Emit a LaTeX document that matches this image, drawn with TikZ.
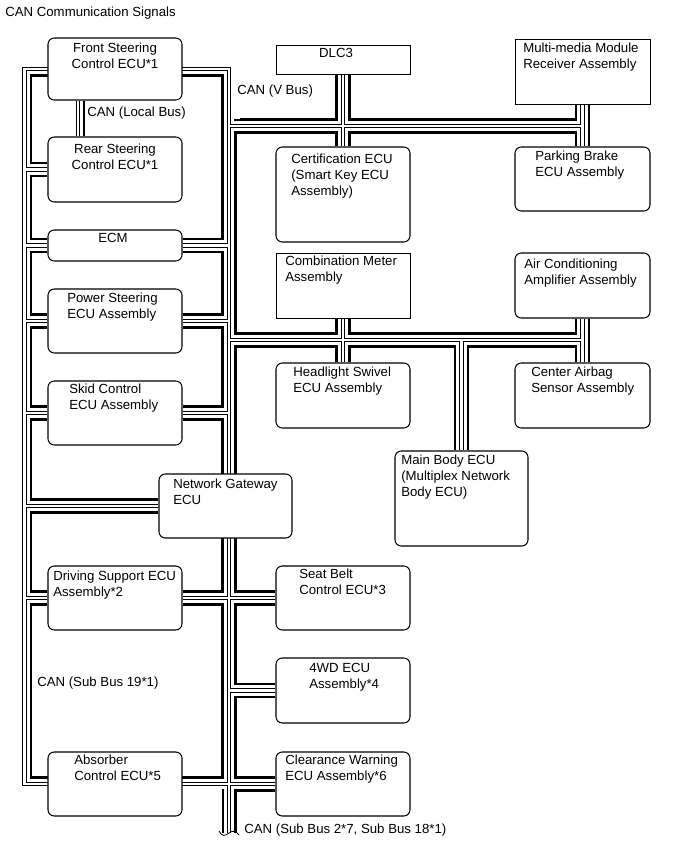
\documentclass[tikz,border=0pt]{standalone}
\usepackage{fontspec}
\setmainfont{Liberation Sans}
\usetikzlibrary{backgrounds}

% Tratti del bus CAN (disegnati piu' volte, a strati)
\newcommand{\canbus}[1]{%
  \draw[#1] (vfine) -- (dtop) -- (stop) -- (sbot) -- (dbot);
  \foreach \n in {rsc,ecm,psa,skid,ngw,dsa}
    \draw[#1] (\n.west) -- (\n.west -| stop);
  \foreach \n in {ecm,psa,skid,dsa}
    \draw[#1] (\n.east) -- (\n.east -| dtop);
  \foreach \n in {sbc,wdf,cwe}
    \draw[#1] (\n.west) -- (\n.west -| dtop);
  \draw[#1] (vbus) -- (vbus -| mmr.south);
  \draw[#1] (hbus) -- (hbus -| aca.south);
  \draw[#1] (dlc.south) -- (cert.north);
  \draw[#1] (mmr.south) -- (pkb.north);
  \draw[#1] (cmb.south) -- (hls.north);
  \draw[#1] (aca.south) -- (cas.north);
  \draw[#1] (hbus -| mbe.north) -- (mbe.north);
}

\begin{document}
\begin{tikzpicture}[x=0.025cm, y=-0.025cm,
    every node/.style={font=\fontsize{9.4}{11.4}\selectfont},
    ecu/.style={draw, fill=white, rounded corners=4.5pt, line width=0.75pt, inner sep=0pt,
                minimum width=3.35cm, minimum height=1.6cm},
    ecuq/.style={ecu, sharp corners, line width=0.5pt},
    txt/.style={inner sep=0pt, anchor=north west, align=left}]
        \useasboundingbox (0,0) rectangle (690,854);
        % Titolo
        \node[txt] (titolo) at (5,7) {CAN Communication Signals};
        % Punti del bus
        \coordinate (stop) at (24.5,69);
        \coordinate (dtop) at (229,69);
        \coordinate (sbot) at (24.5,784);
        \coordinate (dbot) at (229,784);
        \coordinate (vfine) at (229,833);
        \coordinate (vbus) at (229,126);
        \coordinate (hbus) at (229,340);
        \coordinate (lbus) at (78,0);
        \coordinate (lbk) at (84,0);
        % Centraline a sinistra
        \node[ecu, minimum height=1.55cm] (fsc) at (115,69) {};
        \node[txt, anchor=north, align=center] (fsct) at (115,43) {Front Steering\\Control ECU*1};
        \node[ecu, minimum height=1.625cm] (rsc) at (115,169.5) {};
        \node[txt, anchor=north, align=center] (rsct) at (115,144) {Rear Steering\\Control ECU*1};
        \node[ecu, minimum height=0.775cm] (ecm) at (115,245.5) {};
        \node[txt, anchor=north] (ecmt) at (113,233) {ECM};
        \node[ecu] (psa) at (115,321) {};
        \node[txt] (psat) at (67,293) {Power Steering\\ECU Assembly};
        \node[ecu] (skid) at (115,413) {};
        \node[txt] (skidt) at (69,384) {Skid Control\\ECU Assembly};
        \node[ecu, minimum width=3.325cm] (ngw) at (225.5,506) {};
        \node[txt] (ngwt) at (173,479) {Network Gateway\\ECU};
        \node[ecu] (dsa) at (115,598) {};
        \node[txt] (dsat) at (53,571) {Driving Support ECU\\Assembly*2};
        \node[ecu] (abs) at (115,784) {};
        \node[txt] (abst) at (74,755) {Absorber\\Control ECU*5};
        % Centraline a destra
        \node[ecuq, minimum height=0.725cm] (dlc) at (343,59.5) {};
        \node[txt, anchor=north] (dlct) at (336,48) {DLC3};
        \node[ecuq, minimum width=3.375cm, minimum height=1.625cm] (mmr) at (582.5,71.5) {};
        \node[txt] (mmrt) at (523,43) {Multi-media Module\\Receiver Assembly};
        \node[ecu, minimum height=2.375cm] (cert) at (343,194.5) {};
        \node[txt] (certt) at (291,154) {Certification ECU\\(Smart Key ECU\\Assembly)};
        \node[ecu, minimum width=3.375cm] (pkb) at (582.5,179) {};
        \node[txt] (pkbt) at (535,151) {Parking Brake\\ECU Assembly};
        \node[ecuq, minimum height=1.625cm] (cmb) at (343,285.5) {};
        \node[txt] (cmbt) at (285,256) {Combination Meter\\Assembly};
        \node[ecu, minimum width=3.375cm, minimum height=1.625cm] (aca) at (582.5,285.5) {};
        \node[txt] (acat) at (524,259) {Air Conditioning\\Amplifier Assembly};
        \node[ecu, minimum height=1.625cm] (hls) at (343,395.5) {};
        \node[txt] (hlst) at (293,367) {Headlight Swivel\\ECU Assembly};
        \node[ecu, minimum width=3.375cm, minimum height=1.625cm] (cas) at (582.5,395.5) {};
        \node[txt] (cast) at (531,367) {Center Airbag\\Sensor Assembly};
        \node[ecu, minimum width=3.325cm, minimum height=2.375cm] (mbe) at (461.5,498.5) {};
        \node[txt] (mbet) at (401,455) {Main Body ECU\\(Multiplex Network\\Body ECU)};
        \node[ecu] (sbc) at (343,598) {};
        \node[txt] (sbct) at (299,569) {Seat Belt\\Control ECU*3};
        \node[ecu, minimum height=1.625cm] (wdf) at (343,690.5) {};
        \node[txt] (wdft) at (309,663) {4WD ECU\\Assembly*4};
        \node[ecu] (cwe) at (343,784) {};
        \node[txt] (cwet) at (285,755) {Clearance Warning\\ECU Assembly*6};
        % Etichette dei bus
        \node[txt] (lloc) at (87,107) {CAN (Local Bus)};
        \node[txt] (lvb) at (237,85) {CAN (V Bus)};
        \node[txt] (ls19) at (37,677) {CAN (Sub Bus 19*1)};
        \node[txt] (ls2) at (244,824) {CAN (Sub Bus 2*7, Sub Bus 18*1)};
        % Bus CAN a strati
        \begin{pgfonlayer}{background}
            \canbus{line width=11pt}
            \canbus{white, line width=7.5pt}
            % bordo esterno senza filo spesso
            \fill[white] (0,0) rectangle (24.5,854);
            \fill[white] (24.5,0) rectangle (dtop);
            \fill[white] (229,0) rectangle (240,118.5);
            \fill[white] (0,784) rectangle (221.5,854);
            \canbus{line width=3.2pt}
            \canbus{white, line width=1.8pt}
            % Bus locale tra gli sterzi
            \draw[line width=0.7pt, double=white, double distance=1.4pt] (fsc.south -| lbus) -- (rsc.north -| lbus);
            \draw[line width=1.8pt] (fsc.south -| lbk) -- (rsc.north -| lbk);
            % interruzione in basso
            \draw[line width=0.6pt] (219,831) .. controls (222,837) and (225,836) .. (229,833) .. controls (233,830) and (236,831) .. (239,835);
        \end{pgfonlayer}
    \end{tikzpicture}
\end{document}
